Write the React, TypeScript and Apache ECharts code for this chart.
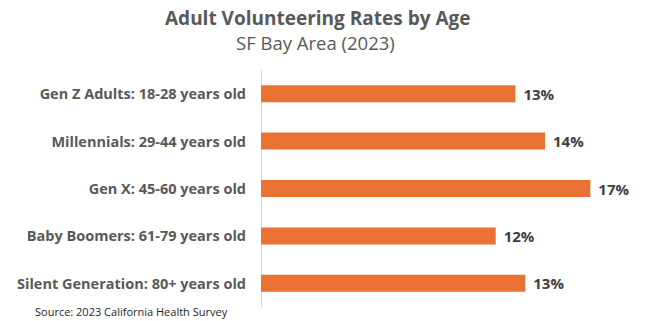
import React, { useEffect, useRef } from "react";
import * as echarts from "echarts";

const categories = [
  "Gen Z Adults: 18-28 years old",
  "Millennials: 29-44 years old",
  "Gen X: 45-60 years old",
  "Baby Boomers: 61-79 years old",
  "Silent Generation: 80+ years old",
];
const rates = [12.9, 14.4, 16.7, 11.9, 13.4];

const FONT = "'Open Sans', Roboto, sans-serif";

export default function App() {
  const ref = useRef<HTMLDivElement>(null);
  useEffect(() => {
    if (!ref.current) return;
    const chart = echarts.init(ref.current, undefined, { renderer: "svg" });
    chart.setOption({
      animation: false,
      backgroundColor: "#ffffff",
      title: [
        {
          text: "Adult Volunteering Rates by Age",
          left: 160,
          top: 3,
          textStyle: { fontFamily: FONT, fontSize: 19, fontWeight: "bold", color: "#595959" },
        },
        {
          text: "SF Bay Area (2023)",
          left: 231,
          top: 28,
          textStyle: { fontFamily: FONT, fontSize: 18.5, fontWeight: "normal", color: "#595959" },
        },
        {
          text: "Source: 2023 California Health Survey",
          left: 30,
          top: 301,
          textStyle: { fontFamily: FONT, fontSize: 11, fontWeight: "normal", color: "#262626" },
        },
      ],
      grid: { left: 261, top: 70, width: 355, height: 237, containLabel: false },
      xAxis: {
        type: "value",
        min: 0,
        max: 18,
        show: false,
        splitLine: { show: false },
      },
      yAxis: {
        type: "category",
        data: categories,
        inverse: true,
        axisLine: { show: true, lineStyle: { color: "#d9d9d9", width: 1 } },
        axisTick: { show: false },
        axisLabel: {
          margin: 15,
          fontFamily: FONT,
          fontSize: 14.5,
          fontWeight: "bold",
          color: "#595959",
        },
      },
      series: [
        {
          type: "bar",
          data: rates,
          barWidth: 17,
          itemStyle: { color: "#E97132" },
          label: {
            show: true,
            position: "right",
            distance: 8,
            fontFamily: FONT,
            fontSize: 15,
            fontWeight: "bold",
            color: "#404040",
            formatter: (p: any) => Math.round(p.value) + "%",
          },
        },
      ],
    });
    return () => chart.dispose();
  }, []);
  return (
    <div
      ref={ref}
      style={{ position: "fixed", left: 0, top: 0, width: 648, height: 321 }}
    />
  );
}
